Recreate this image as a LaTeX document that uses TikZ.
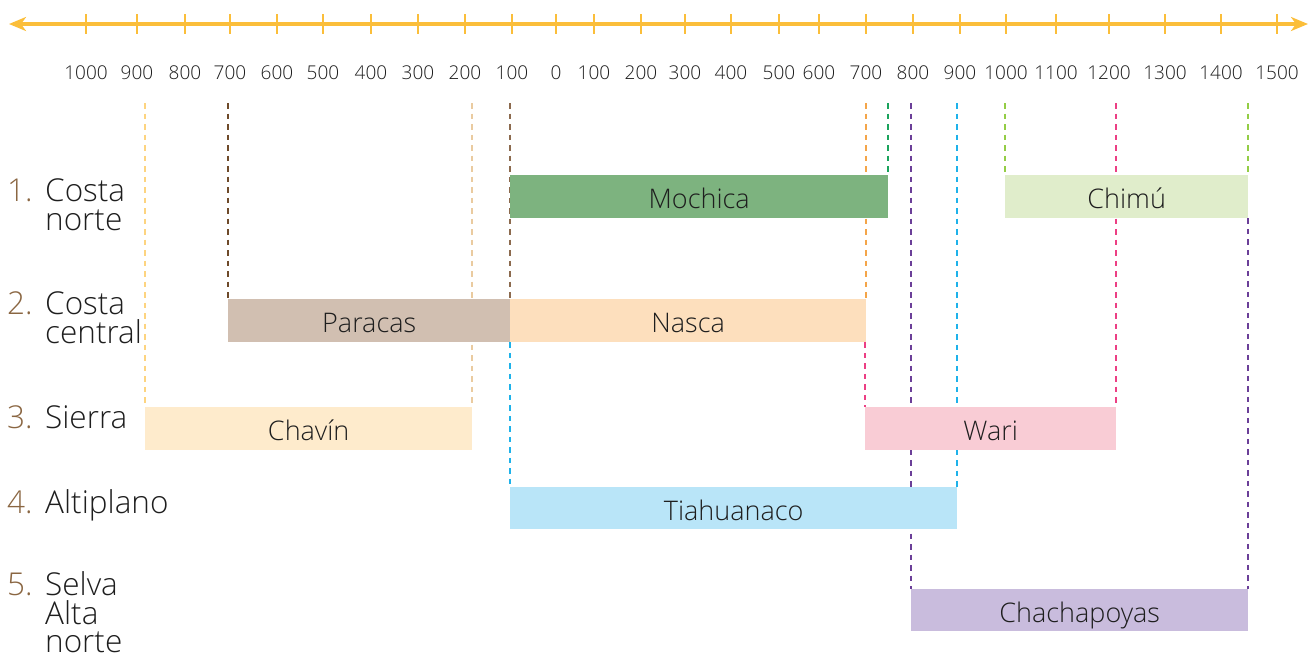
\documentclass[tikz,border=0pt]{standalone}
\usepackage{fontspec}
\IfFontExistsTF{Open Sans Light}{\setmainfont{Open Sans Light}}{\setmainfont{Open Sans}}
\usetikzlibrary{arrows.meta,backgrounds}
\definecolor{axis}{HTML}{FBBE3A}
\definecolor{txt}{HTML}{1E1E1E}
\definecolor{num}{HTML}{8A6642}
\definecolor{cMochica}{HTML}{7DB37F}
\definecolor{cChimu}{HTML}{E0EDCB}
\definecolor{cParacas}{HTML}{D1BFB1}
\definecolor{cNasca}{HTML}{FDDFBD}
\definecolor{cChavin}{HTML}{FEEBCC}
\definecolor{cWari}{HTML}{F9CCD5}
\definecolor{cTiah}{HTML}{B9E5F8}
\definecolor{cChach}{HTML}{C9BCDD}
\definecolor{dYel}{HTML}{FDD480}
\definecolor{dTan}{HTML}{EACBA0}
\definecolor{dBrownA}{HTML}{6E4A2A}
\definecolor{dBrownB}{HTML}{8C6A4E}
\definecolor{dBlue}{HTML}{1EB2EA}
\definecolor{dOrange}{HTML}{F4A549}
\definecolor{dPink}{HTML}{EC3F84}
\definecolor{dGreen}{HTML}{1AA35C}
\definecolor{dPurple}{HTML}{6B3F98}
\definecolor{dLime}{HTML}{93CD45}
\begin{document}
\begin{tikzpicture}[x=1pt,y=-1pt,
  bar/.style={inner sep=0pt, anchor=north west, minimum height=43pt,
    text height=24pt, text depth=0pt, text=txt,
    font=\fontsize{27}{30}\selectfont},
  guide/.style={line width=1.9pt, dash pattern=on 5.5pt off 5pt},
  reg/.style={anchor=base west, inner sep=0pt, text=txt, font=\fontsize{31.5}{29}\selectfont},
  regnum/.style={anchor=base west, inner sep=0pt, text=num, font=\fontsize{31.5}{29}\selectfont},
  yr/.style={inner sep=0pt, text=txt, font=\fontsize{19}{20}\selectfont},
  tick/.style={draw=axis, line width=2.5pt}
]
\useasboundingbox (0,0) rectangle (1315,659);

% axis
\coordinate (aL) at (9,24);
\coordinate (aR) at (1308,24);
\draw[draw=axis, line width=3.5pt, {Stealth[length=17pt,width=14pt,inset=5pt]}-{Stealth[length=17pt,width=14pt,inset=5pt]}] (aL) -- (aR);
\foreach \x/\l [count=\i] in {86/1000,137/900,185/800,230/700,277/600,323/500,371/400,418/300,465/200,512/100,556/0,594/100,641/200,685/300,731/400,779/500,819/600,866/700,913/800,960/900,1006/1000,1056/1100,1109/1200,1165/1300,1221/1400,1277/1500}{
  \draw[tick] (\x,14) -- (\x,34);
  \node[yr] (y\i) at (\x,73) {\l};
}

% bars
\node[bar, fill=cMochica, minimum width=378pt] (mochica) at (510,175) {Mochica};
\node[bar, fill=cChimu, minimum width=243pt] (chimu) at (1005,175) {Chimú};
\node[bar, fill=cParacas, minimum width=282pt] (paracas) at (228,299) {Paracas};
\node[bar, fill=cNasca, minimum width=356pt] (nasca) at (510,299) {Nasca};
\node[bar, fill=cChavin, minimum width=327pt] (chavin) at (145,407) {Chavín};
\node[bar, fill=cWari, minimum width=251pt] (wari) at (865,407) {Wari};
\node[bar, fill=cTiah, minimum width=447pt, minimum height=42pt] (tiah) at (510,487) {Tiahuanaco};
\node[bar, fill=cChach, minimum width=337pt, minimum height=42pt] (chach) at (911,589) {Chachapoyas};

% guide lines
\coordinate (top) at (0,103);
\begin{scope}[on background layer]
\draw[guide, dYel] (chavin.north west |- top) -- (chavin.north west);
\draw[guide, dTan] (chavin.north east |- top) -- (chavin.north east);
\draw[guide, dBrownA] (paracas.north west |- top) -- (paracas.north west);
\draw[guide, dBrownB] (nasca.north west |- top) -- (nasca.north west);
\draw[guide, dBlue] (nasca.south west) -- (tiah.north west);
\draw[guide, dOrange] (nasca.north east |- top) -- (nasca.north east);
\draw[guide, dPink] (wari.north west |- nasca.south) -- (wari.north west);
\draw[guide, dGreen] (mochica.north east |- top) -- (mochica.north east);
\draw[guide, dPurple] (chach.north west |- top) -- (chach.north west);
\draw[guide, dBlue] (tiah.north east |- top) -- (tiah.north east);
\draw[guide, dLime] (chimu.north west |- top) -- (chimu.north west);
\draw[guide, dPink] (wari.north east |- top) -- (wari.north east);
\draw[guide, dLime] (chimu.north east |- top) -- (chimu.north east);
\draw[guide, dPurple] (chimu.south east) -- (chach.north east);
\end{scope}

% regions
\node[regnum] (n1) at (7,201) {1.};
\node[reg] (r1a) at (45,201) {Costa};
\node[reg] (r1b) at (45,230) {norte};
\node[regnum] (n2) at (7,314) {2.};
\node[reg] (r2a) at (45,314) {Costa};
\node[reg] (r2b) at (45,343) {central};
\node[regnum] (n3) at (7,428) {3.};
\node[reg] (r3a) at (45,428) {Sierra};
\node[regnum] (n4) at (7,513) {4.};
\node[reg] (r4a) at (45,513) {Altiplano};
\node[regnum] (n5) at (7,595) {5.};
\node[reg] (r5a) at (45,595) {Selva};
\node[reg] (r5b) at (45,624) {Alta};
\node[reg] (r5c) at (45,652) {norte};
\end{tikzpicture}
\end{document}
